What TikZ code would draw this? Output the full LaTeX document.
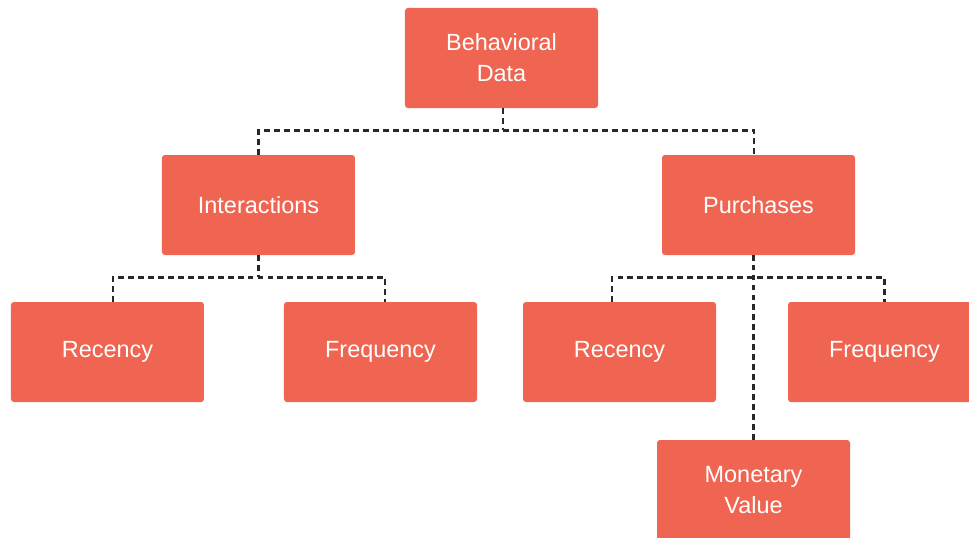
\documentclass[tikz,border=0pt]{standalone}
\usepackage{fontspec}
\setmainfont{Liberation Sans}
\usetikzlibrary{positioning}

\definecolor{boxred}{RGB}{239,101,82}
\definecolor{linkgray}{RGB}{40,40,40}

\begin{document}
\begin{tikzpicture}[x=0.03cm,y=-0.03cm,on grid,
	box/.style={rectangle,rounded corners=2.5pt,fill=boxred,text=white,
		minimum width=5.79cm,minimum height=3cm,align=center,
		font=\fontsize{20}{26.5}\selectfont},
	link/.style={draw=linkgray,line width=2.2pt,dash pattern=on 5pt off 3.5pt}]
	\useasboundingbox (0,0) rectangle (969,538);
	\clip (0,0) rectangle (969,538);

	\node[box] (bd) at (501.5,58) {Behavioral\\Data};
	\node[box] (inter) [below left=4.41cm and 7.29cm of bd] {Interactions};
	\node[box] (pur) [below right=4.41cm and 7.71cm of bd] {Purchases};

	\node[box] (recL) [below left=4.41cm and 4.53cm of inter] {Recency};
	\node[box] (freqL) [below right=4.41cm and 3.66cm of inter] {Frequency};

	\node[box] (recR) [below left=4.41cm and 4.17cm of pur] {Recency};
	\node[box] (freqR) [below right=4.41cm and 3.78cm of pur] {Frequency};
	\node[box] (mon) [below left=8.55cm and 0.15cm of pur] {Monetary\\Value};

	% junctions under each parent
	\path ([xshift=0.05cm]bd.south) ++(0,22) coordinate (j0);
	\path (inter.south) ++(0,22) coordinate (j1);
	\path (mon.north |- pur.south) ++(0,22) coordinate (j2);

	\draw[link] ([xshift=0.05cm]bd.south) -- (j0);
	\draw[link] (inter.north) |- (j0) -| ([xshift=-0.13cm]pur.north);

	\draw[link] (inter.south) -- (j1);
	\draw[link] ([xshift=0.16cm]recL.north) |- (j1) -| ([xshift=0.13cm]freqL.north);

	\draw[link] (mon.north) -- (mon.north |- pur.south);
	\draw[link] ([xshift=-0.22cm]recR.north) |- (j2) -| (freqR.north);
\end{tikzpicture}
\end{document}
